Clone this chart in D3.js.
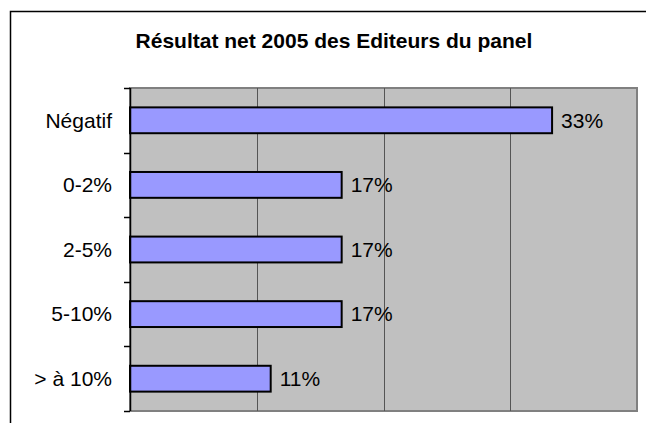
<!DOCTYPE html>
<html>
<head>
<meta charset="utf-8">
<script src="https://cdn.jsdelivr.net/npm/d3@7"></script>
<style>
  html, body { margin: 0; background: #fff; overflow: hidden; }
  svg { display: block; }
  text { font-family: "Liberation Sans", Arial, sans-serif; }
</style>
</head>
<body>
<script>
const width = 646;
const height = 423;

// data (shares of the 18 publishers)
const categories = ["Négatif", "0-2%", "2-5%", "5-10%", "> à 10%"];
const values = [33.3, 16.7, 16.7, 16.7, 11.1];
const valueLabels = ["33%", "17%", "17%", "17%", "11%"];
const gridTicks = [10, 20, 30];

const title = "Résultat net 2005 des Editeurs du panel";

const plot = { left: 130, top: 88, right: 637, bottom: 411 };

let svg = d3
    .select("body")
    .append("svg")
    .attr("width", width)
    .attr("height", height)

// outer chart frame: only its top and left edges fall inside the page
svg.append("path")
    .attr("d", `M10.5,${height} V11.5 H${width}`)
    .attr("fill", "none")
    .attr("stroke", "#000")
    .attr("stroke-width", 1.5)

svg.append("text")
    .attr("x", 334)
    .attr("y", 48)
    .attr("text-anchor", "middle")
    .attr("font-size", 21)
    .attr("font-weight", "bold")
    .text(title)

const x = d3.scaleLinear()
    .domain([0, 40])
    .range([plot.left, plot.right])

const y = d3.scaleBand()
    .domain(categories)
    .range([plot.top, plot.bottom])
    .paddingInner(0.6)
    .paddingOuter(0.3)

// gray plot area
svg.append("rect")
    .attr("x", plot.left)
    .attr("y", plot.top)
    .attr("width", plot.right - plot.left)
    .attr("height", plot.bottom - plot.top)
    .attr("fill", "#c0c0c0")
    .attr("stroke", "#808080")
    .attr("stroke-width", 2)

// vertical gridlines
svg.selectAll("line.grid")
    .data(gridTicks)
    .join("line")
    .attr("class", "grid")
    .attr("x1", d => Math.round(x(d)) + 0.5)
    .attr("x2", d => Math.round(x(d)) + 0.5)
    .attr("y1", plot.top)
    .attr("y2", plot.bottom)
    .attr("stroke", "#555")
    .attr("stroke-width", 1)

// bars
svg.selectAll("rect.bar")
    .data(values)
    .join("rect")
    .attr("class", "bar")
    .attr("x", x(0))
    .attr("y", (d, i) => y(categories[i]))
    .attr("width", d => x(d) - x(0))
    .attr("height", y.bandwidth())
    .attr("fill", "#9999ff")
    .attr("stroke", "#000")
    .attr("stroke-width", 2)

// value labels
svg.selectAll("text.value")
    .data(values)
    .join("text")
    .attr("class", "value")
    .attr("x", d => x(d) + 9)
    .attr("y", (d, i) => y(categories[i]) + y.bandwidth() / 2)
    .attr("dy", "0.35em")
    .attr("font-size", 21)
    .text((d, i) => valueLabels[i])

// category axis with ticks between bands
const yAxis = svg.append("g")
    .attr("transform", `translate(${plot.left},0)`)

yAxis.append("line")
    .attr("x1", 0.5)
    .attr("x2", 0.5)
    .attr("y1", plot.top)
    .attr("y2", plot.bottom)
    .attr("stroke", "#000")
    .attr("stroke-width", 1.5)

const bounds = d3.range(categories.length + 1).map(i => plot.top + i * (plot.bottom - plot.top) / categories.length);

yAxis.selectAll("line.tick")
    .data(bounds)
    .join("line")
    .attr("class", "tick")
    .attr("x1", -6)
    .attr("x2", 0)
    .attr("y1", d => Math.round(d) + 0.5)
    .attr("y2", d => Math.round(d) + 0.5)
    .attr("stroke", "#000")
    .attr("stroke-width", 1.5)

yAxis.selectAll("text.cat")
    .data(categories)
    .join("text")
    .attr("class", "cat")
    .attr("x", -18)
    .attr("y", d => y(d) + y.bandwidth() / 2)
    .attr("dy", "0.35em")
    .attr("text-anchor", "end")
    .attr("font-size", 21)
    .text(d => d)
</script>
</body>
</html>
